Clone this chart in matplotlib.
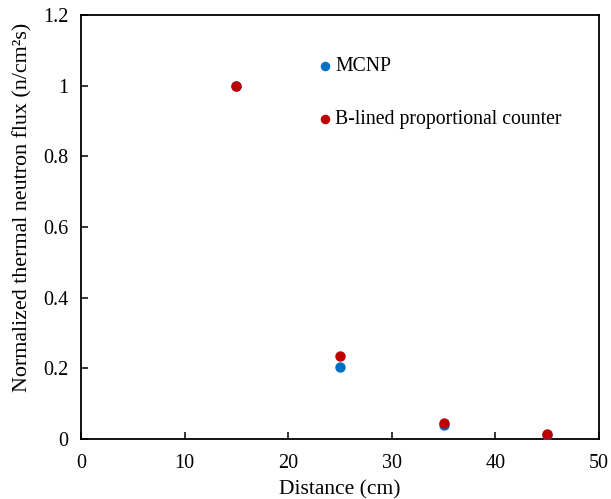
import matplotlib.pyplot as plt

# distances (cm) and normalized flux values
distance = [15, 25, 35, 45]
mcnp = [1.0, 0.204, 0.041, 0.012]
counter = [1.0, 0.236, 0.045, 0.014]

plt.rcParams['font.family'] = ['Liberation Serif', 'DejaVu Serif']

fig = plt.figure(figsize=(6.11, 4.99), dpi=100)
ax = fig.add_axes([81 / 611, 60 / 499, 518 / 611, 424 / 499])

ax.scatter(distance, mcnp, s=42, color='#0070C0', label='MCNP', zorder=3)
ax.scatter(distance, counter, s=42, color='#C00000',
           label='B-lined proportional counter', zorder=4)

ax.set_xlim(0, 50)
ax.set_ylim(0, 1.2)
ax.set_xticks([0, 10, 20, 30, 40, 50])
ax.set_yticks([0, 0.2, 0.4, 0.6, 0.8, 1.0, 1.2])
ax.set_yticklabels(['0', '0.2', '0.4', '0.6', '0.8', '1', '1.2'])
ax.tick_params(direction='in', length=5, width=1.1, labelsize=14.5, pad=9)
ax.tick_params(axis='x', pad=11)
for s in ax.spines.values():
    s.set_linewidth(1.3)

ax.set_xlabel('Distance (cm)', fontsize=15.5, labelpad=5)
ax.set_ylabel('Normalized thermal neutron flux (n/cm²s)', fontsize=15.8)
ax.yaxis.set_label_coords(-0.093, 0.547)

ax.legend(loc='upper left', bbox_to_anchor=(0.399, 0.943), frameon=False,
          fontsize=14.2, labelspacing=1.75, handletextpad=-0.5, markerscale=0.9)

fig.savefig('out.png', dpi=100)
